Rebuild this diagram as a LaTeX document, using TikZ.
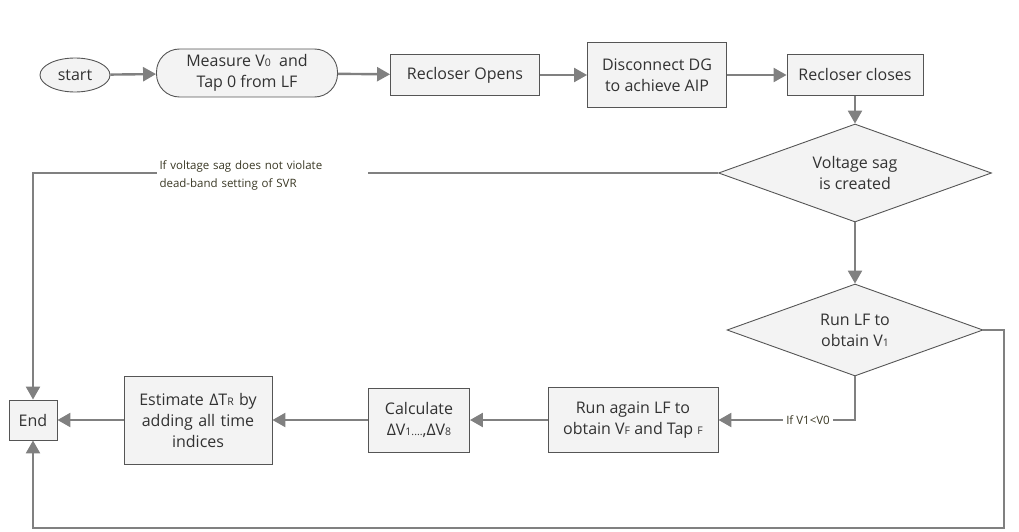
\documentclass[tikz,border=0pt]{standalone}
\usepackage{fontspec}
\setmainfont{Open Sans}
\usetikzlibrary{arrows.meta, shapes.geometric}

\definecolor{linegray}{RGB}{128,128,128}
\definecolor{boxfill}{RGB}{243,243,243}
\definecolor{boxdraw}{RGB}{85,85,85}
\definecolor{txtgray}{RGB}{50,50,50}
\definecolor{lbl}{RGB}{58,56,36}

\newcommand{\lowsub}[1]{{\fontsize{10.5}{10}\selectfont #1}}

\begin{document}
\begin{tikzpicture}[
    x=1pt, y=-1pt,
    font=\fontsize{16}{21}\selectfont,
    every node/.style={text=txtgray},
    proc/.style={draw=boxdraw, fill=boxfill, line width=0.9pt, align=center, inner sep=2pt},
    term/.style={proc, ellipse},
    decide/.style={proc, diamond, aspect=2.8, inner sep=0pt},
    link/.style={draw=linegray, line width=2.4pt, -{Triangle[length=13pt,width=14pt]}},
    cond/.style={text=lbl, fill=white, font=\fontsize{11.5}{18}\selectfont, inner sep=3pt}
]
    \useasboundingbox (0,0) rectangle (1019,532);

    % top row
    \node[term, minimum width=70, minimum height=34] (start) at (75,75) {start};
    \node[proc, rounded corners=23, minimum width=181, minimum height=48] (measure) at (247,73)
        {Measure V\lowsub{0}\ \ and\\Tap 0 from LF};
    \node[proc, minimum width=149, minimum height=41] (opens) at (465,75) {Recloser Opens};
    \node[proc, minimum width=139, minimum height=65] (disc) at (657,75) {Disconnect DG\\to achieve AIP};
    \node[proc, minimum width=136, minimum height=41] (closes) at (855,75) {Recloser closes};

    % decisions
    \node[decide, minimum width=273, minimum height=98] (sag) at (855,173) {Voltage sag\\is created};
    \node[decide, minimum width=256, minimum height=92] (runlf) at (855,330) {Run LF to\\obtain V\lowsub{1}};

    % bottom row
    \node[proc, minimum width=170, minimum height=65] (again) at (633,420)
        {Run again LF to\\obtain V\lowsub{F} and Tap \lowsub{F}};
    \node[proc, minimum width=101, minimum height=64] (calc) at (419,420)
        {Calculate\\ΔV\lowsub{1....},ΔV\lowsub{8}};
    \node[proc, minimum width=148, minimum height=88, text width=144, inner sep=0pt] (estim) at (198,420)
        {Estimate ΔT\lowsub{R} by\\adding all time\\indices};
    \node[proc, minimum width=48, minimum height=40] (endn) at (33,420) {End};

    \coordinate (loopr) at (1004,330);
    \coordinate (loopb) at (1004,528);

    % connectors
    \draw[link] (start) -- (measure);
    \draw[link] (measure) -- (opens);
    \draw[link] (opens) -- (disc);
    \draw[link] (disc) -- (closes);
    \draw[link] (closes) -- (sag);
    \draw[link] (sag) -- (runlf);
    \draw[link] (sag.west) -| (endn.north);
    \node[cond, text width=205, align=left] (nosag) at (262,175)
        {If voltage sag does not violate\\dead-band setting of SVR};
    \draw[link] (runlf.south) |- (again.east);
    \node[cond] (lower) at (808,420) {If V1<V0};
    \draw[link] (runlf.east) -- (loopr) -- (loopb) -| (endn.south);
    \draw[link] (again) -- (calc);
    \draw[link] (calc) -- (estim);
    \draw[link] (estim) -- (endn);
\end{tikzpicture}
\end{document}
